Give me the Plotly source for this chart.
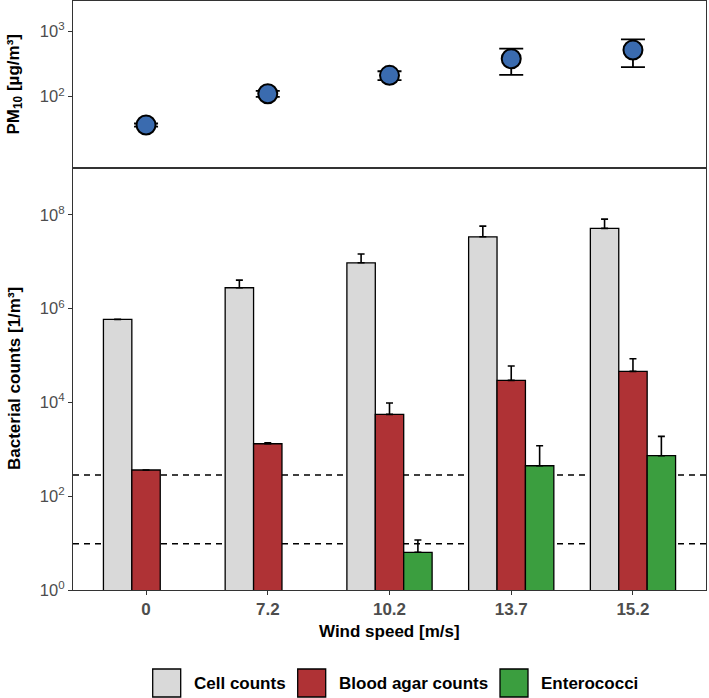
import plotly.graph_objects as go

# ---------------- data ----------------
wind_speed = ["0", "7.2", "10.2", "13.7", "15.2"]

pm10_mean = [36.9, 111, 212, 380, 518]
pm10_sd = [2, 11.5, 33, 165, 235]

cell_counts = [5.92e5, 2.79e6, 9.5e6, 3.41e7, 5.15e7]
cell_counts_sd = [None, 1.28e6, 5.1e6, 2.36e7, 2.98e7]
blood_agar = [362, 1316, 5575, 29600, 46000]
blood_agar_sd = [None, 65, 4135, 30100, 39500]
enterococci = [None, None, 6.37, 447, 731]
enterococci_sd = [None, None, 5.3, 747, 1161]

detection_limits = [283, 9.7]

series_names = ["Cell counts", "Blood agar counts", "Enterococci"]
series_colors = ["#D9D9D9", "#AF3235", "#3B9E3F"]
point_color = "#3A6BAF"

top_ticks = [100, 1000]
top_ticktext = ["10<sup>2</sup>", "10<sup>3</sup>"]
bottom_ticks = [1, 100, 1e4, 1e6, 1e8]
bottom_ticktext = ["10<sup>0</sup>", "10<sup>2</sup>", "10<sup>4</sup>", "10<sup>6</sup>", "10<sup>8</sup>"]

# ---------------- layout geometry ----------------
W, H = 709, 698
ML, MR, MT, MB = 73, 3, 1, 108
plot_w = W - ML - MR
plot_h = H - MT - MB
split = 1 - (168 - MT) / plot_h  # boundary between panels (paper)

FONT = "Liberation Sans, Arial, sans-serif"
AXC = "#333333"
TICKC = "#4D4D4D"

fig = go.Figure()

# top panel: PM10 points
fig.add_trace(go.Scatter(
    x=wind_speed, y=pm10_mean, mode="markers",
    marker=dict(size=19, color=point_color, line=dict(color="black", width=2)),
    error_y=dict(type="data", array=pm10_sd, color="black", thickness=1.8, width=12),
    xaxis="x", yaxis="y", showlegend=False,
))

# bottom panel: bars
series_vals = [cell_counts, blood_agar, enterococci]
series_sd = [cell_counts_sd, blood_agar_sd, enterococci_sd]
for name, col, vals, sd in zip(series_names, series_colors, series_vals, series_sd):
    fig.add_trace(go.Bar(
        x=wind_speed, y=vals, name=name,
        marker=dict(color=col, line=dict(color="black", width=1.3)),
        error_y=dict(type="data", symmetric=False, array=sd,
                     arrayminus=[0 if s is not None else None for s in sd],
                     color="black", thickness=1.6, width=3.5),
        xaxis="x2", yaxis="y2", showlegend=False,
    ))

shapes = []
for lim in detection_limits:
    shapes.append(dict(type="line", xref="x2 domain", x0=0, x1=1, yref="y2", y0=lim, y1=lim,
                       line=dict(color="black", width=1.6, dash="6px,5px"), layer="below"))

# manual legend
def px_to_paper_x(px):
    return (px - ML) / plot_w

def px_to_paper_y(py):
    return (MT + plot_h - py) / plot_h

key_lefts = [152.7, 297.7, 500.0]
key_size = 28
key_top = 669
annotations = []
for name, col, kx in zip(series_names, series_colors, key_lefts):
    shapes.append(dict(type="rect", xref="paper", yref="paper",
                       x0=px_to_paper_x(kx), x1=px_to_paper_x(kx + key_size),
                       y0=px_to_paper_y(key_top + key_size), y1=px_to_paper_y(key_top),
                       fillcolor=col, line=dict(color="black", width=1.3)))
    annotations.append(dict(xref="paper", yref="paper", x=px_to_paper_x(kx + key_size + 11),
                            y=px_to_paper_y(key_top + key_size / 2), xanchor="left", yanchor="middle",
                            text=name, showarrow=False,
                            font=dict(family=FONT, size=17, color="black", weight="bold")))

# axis titles
annotations.append(dict(xref="paper", yref="paper", x=0, xshift=14 - ML, y=(split + 1) / 2,
                        text="PM<sub>10</sub> [µg/m³]", textangle=-90, showarrow=False,
                        xanchor="center", yanchor="middle",
                        font=dict(family=FONT, size=17, color="black", weight="bold")))
annotations.append(dict(xref="paper", yref="paper", x=0, xshift=14 - ML, y=split / 2,
                        text="Bacterial counts [1/m³]", textangle=-90, showarrow=False,
                        xanchor="center", yanchor="middle",
                        font=dict(family=FONT, size=17, color="black", weight="bold")))
annotations.append(dict(xref="paper", yref="paper", x=0.5, y=px_to_paper_y(631),
                        text="Wind speed [m/s]", showarrow=False,
                        xanchor="center", yanchor="middle",
                        font=dict(family=FONT, size=17, color="black", weight="bold")))

common_x = dict(type="category", categoryorder="array", categoryarray=wind_speed,
                range=[-0.6, 4.6], showgrid=False, zeroline=False,
                showline=True, linecolor=AXC, linewidth=1.1, mirror=True)
common_y = dict(type="log", showgrid=False, zeroline=False, showline=True,
                linecolor=AXC, linewidth=1.1, mirror=True, ticks="outside",
                ticklen=4, tickcolor=AXC, tickwidth=1.1,
                tickfont=dict(family=FONT, size=16.5, color=TICKC))

fig.update_layout(
    width=W, height=H,
    margin=dict(l=ML, r=MR, t=MT, b=MB, autoexpand=False),
    paper_bgcolor="white", plot_bgcolor="white",
    font=dict(family=FONT),
    barmode="group", bargap=0.3, bargroupgap=0,
    showlegend=False,
    xaxis=dict(domain=[0, 1], anchor="y", showticklabels=False, ticks="", **common_x),
    yaxis=dict(domain=[split, 1], anchor="x", range=[0.91, 3.463],
               tickvals=top_ticks, ticktext=top_ticktext, **common_y),
    xaxis2=dict(domain=[0, 1], anchor="y2", ticks="outside", ticklen=4, tickcolor=AXC, tickwidth=1.1,
                tickfont=dict(family=FONT, size=17, color=TICKC, weight="bold"), **common_x),
    yaxis2=dict(domain=[0, split], anchor="x2", range=[0, 9],
                tickvals=bottom_ticks, ticktext=bottom_ticktext, **common_y),
    shapes=shapes,
    annotations=annotations,
)

fig.write_html("out.html",
               config={"displayModeBar": False},
               post_script="document.body.style.margin='0';document.body.style.padding='0';")
